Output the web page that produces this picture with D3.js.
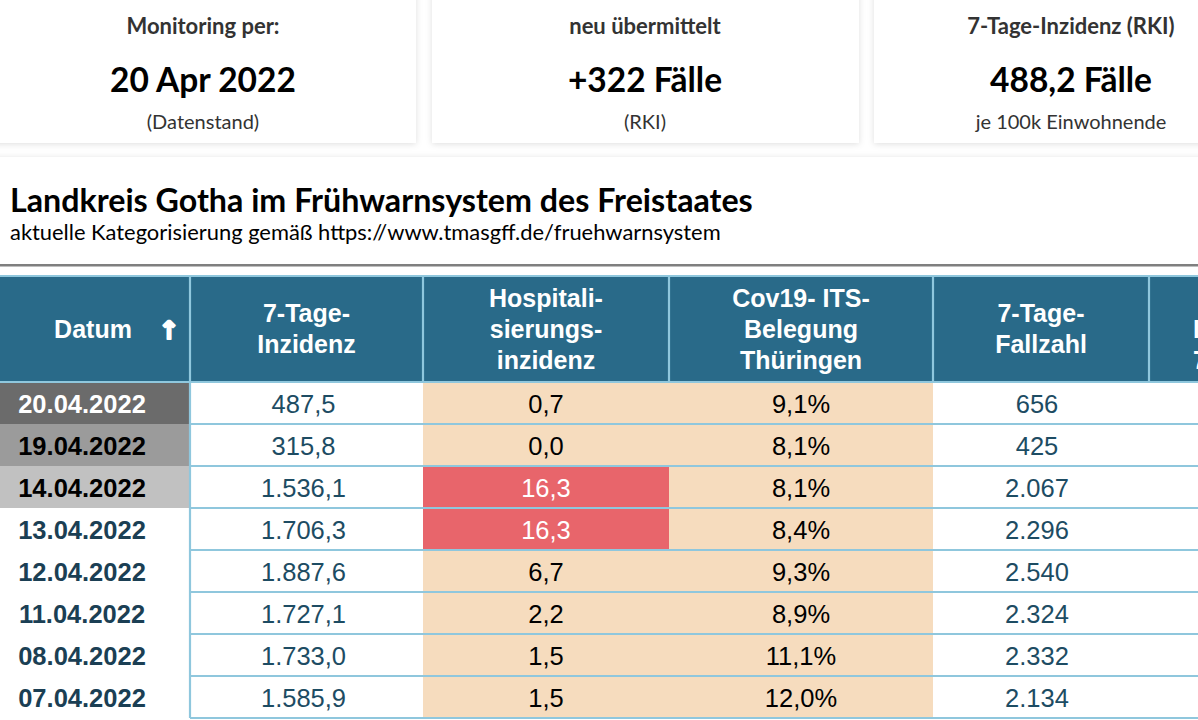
<!DOCTYPE html>
<html><head><meta charset="utf-8">
<script src="https://cdn.jsdelivr.net/npm/d3@7"></script>
<style>
html,body{margin:0;padding:0;background:#fff;overflow:hidden;}
svg{display:block;}
</style></head>
<body>
<svg id="c" width="1198" height="720"></svg>
<script>
// ---------- data ----------
const cardLabels = ["Monitoring per:", "neu übermittelt", "7-Tage-Inzidenz (RKI)"];
const cardValues = ["20 Apr 2022", "+322 Fälle", "488,2 Fälle"];
const cardNotes  = ["(Datenstand)", "(RKI)", "je 100k Einwohnende"];

const title = "Landkreis Gotha im Frühwarnsystem des Freistaates";
const subtitle = "aktuelle Kategorisierung gemäß https://www.tmasgff.de/fruehwarnsystem";

const headers = [
  ["Datum"],
  ["7-Tage-", "Inzidenz"],
  ["Hospitali-", "sierungs-", "inzidenz"],
  ["Cov19- ITS-", "Belegung", "Thüringen"],
  ["7-Tage-", "Fallzahl"],
  ["", "Inzidenz", "7-Tage"]
];

const dates    = ["20.04.2022","19.04.2022","14.04.2022","13.04.2022","12.04.2022","11.04.2022","08.04.2022","07.04.2022"];
const inzidenz = [487.5, 315.8, 1536.1, 1706.3, 1887.6, 1727.1, 1733.0, 1585.9];
const hospital = [0.7, 0.0, 16.3, 16.3, 6.7, 2.2, 1.5, 1.5];
const itsBeleg = [9.1, 8.1, 8.1, 8.4, 9.3, 8.9, 11.1, 12.0];
const fallzahl = [656, 425, 2067, 2296, 2540, 2324, 2332, 2134];
const hospThreshold = 12;

// ---------- setup ----------
const svg = d3.select("#c");
const de = d3.formatLocale({decimal: ",", thousands: ".", grouping: [3], currency: ["", " €"]});
const f1 = de.format(",.1f"), fInt = de.format(",d");

const defs = svg.append("defs");
const flt = defs.append("filter").attr("id","sh").attr("x","-10%").attr("y","-30%").attr("width","120%").attr("height","160%");
flt.append("feDropShadow").attr("dx",0).attr("dy",1).attr("stdDeviation",3).attr("flood-color","#000").attr("flood-opacity",0.13);

// section card behind the table
svg.append("rect").attr("x",-20).attr("y",157).attr("width",1240).attr("height",600)
  .attr("fill","#fff").attr("filter","url(#sh)");

// ---------- top cards ----------
const cardX = d3.scaleOrdinal().domain([0,1,2]).range([[-20,416],[432,859],[874,1230]]);
const cardCenters = [203, 645, 1071];
const cards = svg.append("g").selectAll("g").data(cardLabels).join("g");
cards.append("rect")
  .attr("x",(d,i)=>cardX(i)[0]).attr("y",-20)
  .attr("width",(d,i)=>cardX(i)[1]-cardX(i)[0]).attr("height",163)
  .attr("fill","#fff").attr("filter","url(#sh)");
cards.append("text").attr("x",(d,i)=>cardCenters[i]).attr("y",34)
  .attr("text-anchor","middle").attr("font-family","Lato").attr("font-weight",700)
  .attr("font-size",22).attr("fill","#333").text(d=>d);
cards.append("text").attr("x",(d,i)=>cardCenters[i]).attr("y",92)
  .attr("text-anchor","middle").attr("font-family","Lato").attr("font-weight",700)
  .attr("font-size",33.5).attr("fill","#000").text((d,i)=>cardValues[i]);
cards.append("text").attr("x",(d,i)=>cardCenters[i]).attr("y",129)
  .attr("text-anchor","middle").attr("font-family","Lato").attr("font-weight",400)
  .attr("font-size",20).attr("fill","#333").text((d,i)=>cardNotes[i]);

// ---------- title ----------
svg.append("text").attr("x",10).attr("y",212).attr("font-family","Lato").attr("font-weight",700)
  .attr("font-size",32.2).attr("fill","#000").text(title);
svg.append("text").attr("x",10).attr("y",240).attr("font-family","Lato").attr("font-weight",400)
  .attr("font-size",21.9).attr("fill","#000").text(subtitle);
svg.append("rect").attr("x",0).attr("y",264).attr("width",1198).attr("height",2.5).attr("fill","#7f7f7f");

// ---------- table ----------
const colEdges = [0,190,423,669,933,1149,1365];
const headTop = 275, headBot = 382;
const y = d3.scaleBand().domain(dates).range([headBot, 718]).paddingInner(0).paddingOuter(0);
const border = "#8fc7dd", headBg = "#296a89";

// header
svg.append("rect").attr("x",0).attr("y",headTop).attr("width",1198).attr("height",headBot-headTop).attr("fill",headBg);
const hg = svg.append("g").attr("font-family","Liberation Sans, Arial").attr("font-weight",700)
  .attr("font-size",25).attr("fill","#fff");
headers.forEach((lines,ci)=>{
  const cx = ci===0 ? 93 : ci===5 ? colEdges[5]+44 : (colEdges[ci]+colEdges[ci+1])/2;
  const lh = 31, mid = (headTop+headBot)/2;
  lines.forEach((t,li)=>{
    hg.append("text").attr("x",cx)
      .attr("y", mid + (li-(lines.length-1)/2)*lh)
      .attr("dy","0.36em")
      .attr("text-anchor", ci===5 ? "start" : "middle")
      .text(t);
  });
});
hg.append("text").attr("x",169).attr("y",(headTop+headBot)/2).attr("dy","0.42em")
  .attr("text-anchor","middle").attr("font-family","DejaVu Sans").attr("font-weight",700)
  .attr("font-size",25).attr("stroke","#fff").attr("stroke-width",2).attr("stroke-linejoin","round")
  .text("↑");

// date column backgrounds
const dateBg = ["#6b6b6b","#9b9b9b","#c1c1c1"];
const dateFg = ["#ffffff","#000000","#000000"];
const rows = svg.append("g").selectAll("g").data(dates).join("g");
rows.append("rect").attr("x",0).attr("y",d=>y(d)).attr("width",colEdges[1]).attr("height",y.bandwidth())
  .attr("fill",(d,i)=>dateBg[i]||"#fff");
// data cell backgrounds
rows.append("rect").attr("x",colEdges[2]).attr("y",d=>y(d)).attr("width",colEdges[3]-colEdges[2]).attr("height",y.bandwidth())
  .attr("fill",(d,i)=>hospital[i]>=hospThreshold ? "#e8656b" : "#f6dcbe");
rows.append("rect").attr("x",colEdges[3]).attr("y",d=>y(d)).attr("width",colEdges[4]-colEdges[3]).attr("height",y.bandwidth())
  .attr("fill","#f6dcbe");

// borders
const bl = svg.append("g").attr("stroke",border).attr("stroke-width",2.2);
bl.append("line").attr("x1",0).attr("x2",1198).attr("y1",headTop+1).attr("y2",headTop+1);
bl.append("line").attr("x1",0).attr("x2",1198).attr("y1",headBot).attr("y2",headBot);
colEdges.slice(1,6).forEach(x=>{
  bl.append("line").attr("x1",x).attr("x2",x).attr("y1",headTop).attr("y2",headBot);
});
bl.append("line").attr("x1",colEdges[1]).attr("x2",colEdges[1]).attr("y1",headBot).attr("y2",718);
dates.forEach(d=>{
  const yy = y(d)+y.bandwidth();
  bl.append("line").attr("x1",colEdges[1]).attr("x2",1198).attr("y1",yy).attr("y2",yy);
});

// texts
const tg = rows.append("g").attr("font-family","Liberation Sans, Arial").attr("font-size",25.5)
  .attr("text-anchor","middle");
const cyOf = d => y(d)+y.bandwidth()/2;
tg.append("text").attr("x",82).attr("y",cyOf).attr("dy","0.4em").attr("font-weight",700)
  .attr("fill",(d,i)=>dateFg[i]||"#1b3f54").text(d=>d);
tg.append("text").attr("x",(colEdges[1]+colEdges[2])/2-3).attr("y",cyOf).attr("dy","0.4em")
  .attr("fill","#1d4c63").text((d,i)=>f1(inzidenz[i]));
tg.append("text").attr("x",(colEdges[2]+colEdges[3])/2).attr("y",cyOf).attr("dy","0.4em")
  .attr("fill",(d,i)=>hospital[i]>=hospThreshold ? "#fff" : "#000").text((d,i)=>f1(hospital[i]));
tg.append("text").attr("x",(colEdges[3]+colEdges[4])/2).attr("y",cyOf).attr("dy","0.4em")
  .attr("fill","#000").text((d,i)=>f1(itsBeleg[i])+"%");
tg.append("text").attr("x",(colEdges[4]+colEdges[5])/2-4).attr("y",cyOf).attr("dy","0.4em")
  .attr("fill","#1d4c63").text((d,i)=>fInt(fallzahl[i]));
</script>
</body></html>
